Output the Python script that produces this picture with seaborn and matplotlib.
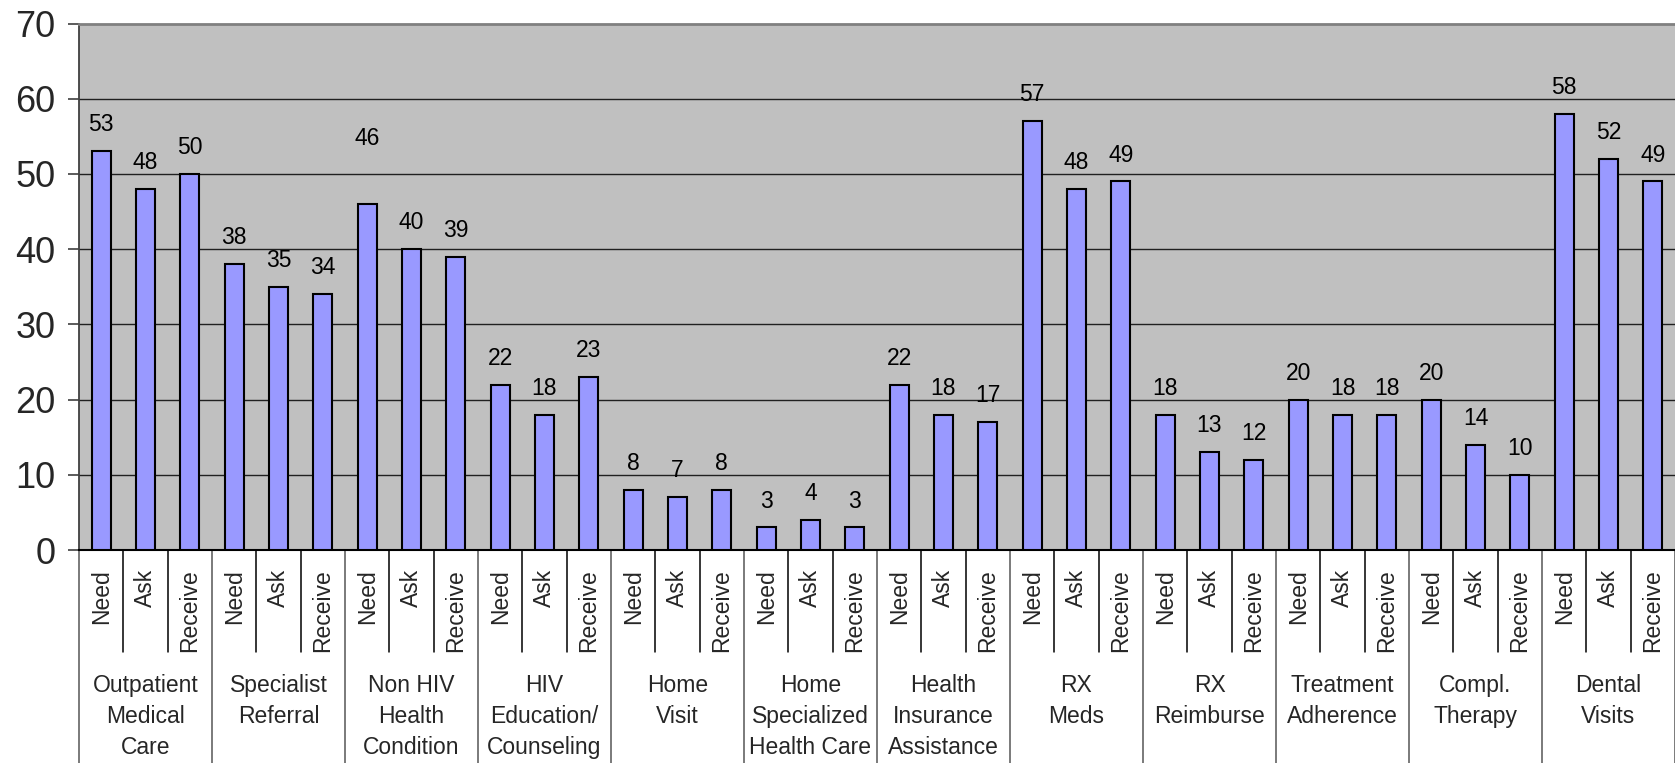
import matplotlib
matplotlib.use("Agg")
import matplotlib.pyplot as plt
import matplotlib.transforms as mtransforms
import seaborn as sns
import pandas as pd

groups = ["Outpatient\nMedical\nCare", "Specialist\nReferral", "Non HIV\nHealth\nCondition",
          "HIV\nEducation/\nCounseling", "Home\nVisit", "Home\nSpecialized\nHealth Care",
          "Health\nInsurance\nAssistance", "RX\nMeds", "RX\nReimburse",
          "Treatment\nAdherence", "Compl.\nTherapy", "Dental\nVisits"]
stages = ["Need", "Ask", "Receive"]
need = [53, 38, 46, 22, 8, 3, 22, 57, 18, 20, 20, 58]
ask = [48, 35, 40, 18, 7, 4, 18, 48, 13, 18, 14, 52]
receive = [50, 34, 39, 23, 8, 3, 17, 49, 12, 18, 10, 49]
yticks = [0, 10, 20, 30, 40, 50, 60, 70]

rows = []
for gi, g in enumerate(groups):
    for s, vals in zip(stages, [need, ask, receive]):
        rows.append({"key": f"{gi}-{s}", "group": g, "stage": s, "value": vals[gi]})
df = pd.DataFrame(rows)
order = list(df["key"])

sns.set_theme(style="white")
plt.rcParams['font.family'] = ['Liberation Sans', 'DejaVu Sans']

W, H = 1675, 763
fig = plt.figure(figsize=(W / 100, H / 100), dpi=100)
ax = fig.add_axes([79 / W, (H - 550) / H, (W - 79) / W, (550 - 23.5) / H])
ax.set_facecolor("#C0C0C0")

sns.barplot(data=df, x="key", y="value", order=order, color="#9999FF",
            width=0.43, edgecolor="black", linewidth=1.5, saturation=1, ax=ax, zorder=3)

ax.set_xlim(-0.5, len(order) - 0.5)
ax.set_ylim(0, 70)
ax.set_yticks(yticks)
ax.set_yticklabels([str(t) for t in yticks], fontsize=26, family="Liberation Sans")
ax.tick_params(axis="y", length=8, width=1.2, color="#404040", pad=9, left=True)
ax.set_xticks([])
ax.set_xlabel("")
ax.set_ylabel("")
for t in yticks[1:-1]:
    ax.axhline(t, color="#202020", lw=1.0, zorder=1)

ax.spines["top"].set_color("#808080")
ax.spines["top"].set_linewidth(2)
ax.spines["left"].set_color("#404040")
ax.spines["left"].set_linewidth(1.3)
ax.spines["bottom"].set_color("black")
ax.spines["bottom"].set_linewidth(1.5)
ax.spines["right"].set_visible(False)

# value labels
extra = {"2-Need": 5.2}
for i, (k, v) in enumerate(zip(df["key"], df["value"])):
    off = 2.65 + extra.get(k, 0)
    ax.text(i, v + off, str(v), ha="center", va="baseline", fontsize=16.5, color="black", zorder=4)

# category axis labels
trans = mtransforms.blended_transform_factory(ax.transData, fig.transFigure)
y0 = (H - 550) / H
for i, s in enumerate(df["stage"]):
    ax.text(i, (H - 569) / H, s, rotation=90, ha="center", va="top",
            fontsize=16.5, transform=trans, clip_on=False)
for j in range(len(order) + 1):
    x = j - 0.5
    if j % 3 == 0:
        ax.plot([x, x], [y0, 0], color="#707070", lw=1.3, transform=trans, clip_on=False)
    else:
        ax.plot([x, x], [y0, (H - 652) / H], color="black", lw=1.1, transform=trans, clip_on=False)
for gi, g in enumerate(groups):
    ax.text(gi * 3 + 1, (H - 674) / H, g, ha="center", va="top", fontsize=16.5,
            linespacing=1.45, transform=trans, clip_on=False)

fig.savefig("out.png", dpi=100)
